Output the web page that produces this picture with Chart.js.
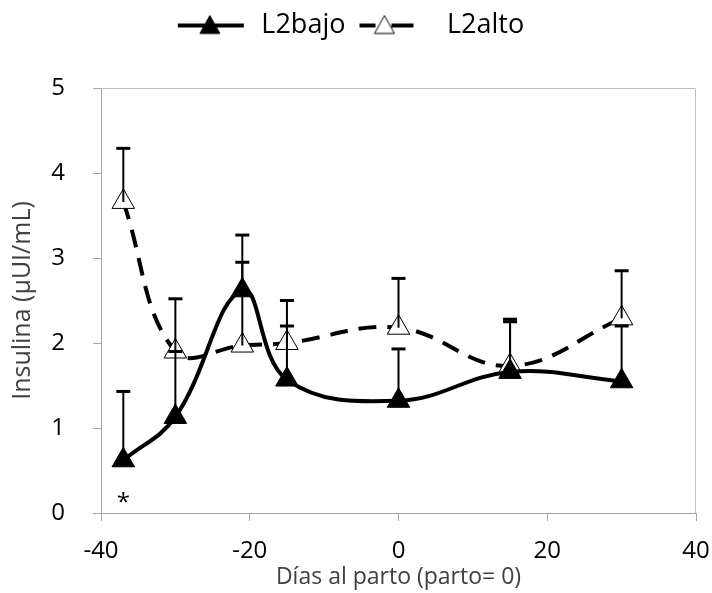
<!DOCTYPE html>
<html>
<head>
<meta charset="utf-8">
<script src="https://cdn.jsdelivr.net/npm/chart.js@4.4.1/dist/chart.umd.min.js"></script>
<style>
  html, body { margin: 0; padding: 0; background: #fff; }
  #wrap { width: 712px; height: 593px; }
</style>
</head>
<body>
<div id="wrap"><canvas id="insulinChart" width="712" height="593"></canvas></div>
<script>
// days relative to calving
const days = [-37, -30, -21, -15, 0, 15, 30];
const bajoValues = [0.62, 1.13, 2.62, 1.57, 1.32, 1.66, 1.55];
const bajoErrors = [0.81, 0.77, 0.65, 0.63, 0.61, 0.62, 0.65];
const altoValues = [3.66, 1.90, 1.97, 2.00, 2.18, 1.73, 2.29];
const altoErrors = [0.63, 0.62, 0.98, 0.50, 0.58, 0.52, 0.56];
const xTicks = [-40, -20, 0, 20, 40];
const yTicks = [0, 1, 2, 3, 4, 5];

const axisGray = '#a6a6a6';
const textColor = '#404040';
const font = '"Open Sans", "DejaVu Sans", sans-serif';

// legend icons: line + triangle
function makeIcon(segments, cx, filled) {
  const c = document.createElement('canvas');
  c.width = 76; c.height = 26;
  const g = c.getContext('2d');
  g.strokeStyle = '#000';
  g.lineWidth = 4;
  segments.forEach(s => {
    g.beginPath(); g.moveTo(s[0], 13); g.lineTo(s[1], 13); g.stroke();
  });
  g.beginPath();
  g.moveTo(cx, 3); g.lineTo(cx + 10, 21); g.lineTo(cx - 10, 21); g.closePath();
  g.fillStyle = filled ? '#000' : '#fff';
  g.fill();
  g.lineWidth = 1;
  g.stroke();
  return c;
}
const legendIcons = [
  makeIcon([[6, 72]], 38, true),
  makeIcon([[2, 18], [34, 56]], 27, false)
];

const errorSets = [bajoErrors, altoErrors];

const extras = {
  id: 'extras',
  afterDatasetsDraw(chart) {
    const {ctx, scales: {x, y}} = chart;
    ctx.save();
    ctx.strokeStyle = '#000';
    chart.data.datasets.forEach((ds, i) => {
      ds.data.forEach((pt, j) => {
        const px = x.getPixelForValue(pt.x);
        const py = y.getPixelForValue(pt.y);
        const top = y.getPixelForValue(pt.y + errorSets[i][j]);
        ctx.lineWidth = 2;
        ctx.beginPath(); ctx.moveTo(px, py); ctx.lineTo(px, top); ctx.stroke();
        ctx.lineWidth = 3;
        ctx.beginPath(); ctx.moveTo(px - 7, top); ctx.lineTo(px + 7, top); ctx.stroke();
      });
    });
    // significance mark
    ctx.fillStyle = '#000';
    ctx.font = '24px ' + font;
    ctx.textAlign = 'center';
    ctx.textBaseline = 'middle';
    ctx.fillText('*', x.getPixelForValue(-37), y.getPixelForValue(0.12));
    ctx.restore();
  },
  afterDraw(chart) {
    const {ctx, chartArea: a} = chart;
    ctx.save();
    ctx.strokeStyle = '#bfbfbf';
    ctx.lineWidth = 1;
    ctx.beginPath();
    ctx.moveTo(a.left, a.top + 0.5);
    ctx.lineTo(a.right - 0.5, a.top + 0.5);
    ctx.lineTo(a.right - 0.5, a.bottom);
    ctx.stroke();
    ctx.restore();
  }
};

const ctx = document.getElementById('insulinChart').getContext('2d');
const chart = new Chart(ctx, {
  type: 'line',
  data: {
    datasets: [{
      label: 'L2bajo',
      data: days.map((d, i) => ({x: d, y: bajoValues[i]})),
      borderColor: '#000',
      borderWidth: 4,
      tension: 0.4,
      pointStyle: 'triangle',
      pointRadius: 13,
      pointBackgroundColor: '#000',
      pointBorderColor: '#000',
      pointBorderWidth: 1
    }, {
      label: 'L2alto',
      data: days.map((d, i) => ({x: d, y: altoValues[i]})),
      borderColor: '#000',
      borderWidth: 4,
      borderDash: [18, 11],
      tension: 0.4,
      pointStyle: 'triangle',
      pointRadius: 13,
      pointBackgroundColor: '#fff',
      pointBorderColor: '#000',
      pointBorderWidth: 1
    }]
  },
  options: {
    responsive: false,
    animation: false,
    layout: { padding: { top: 0, right: 16, bottom: 0, left: 0 } },
    plugins: {
      legend: {
        position: 'top',
        weight: 3000,
        labels: {
          usePointStyle: true,
          pointStyleWidth: 76,
          padding: 12,
          color: '#000',
          font: { family: font, size: 27 },
          generateLabels(c) {
            return Chart.defaults.plugins.legend.labels.generateLabels(c)
              .map((item, i) => ({...item, pointStyle: legendIcons[i]}));
          }
        }
      },
      // spacer between legend and plot
      title: { display: true, text: '', font: { size: 10 }, padding: { top: 27, bottom: 0 } },
      tooltip: { enabled: false }
    },
    scales: {
      x: {
        type: 'linear',
        min: -40,
        max: 40,
        afterBuildTicks(s) { s.ticks = xTicks.map(v => ({value: v})); },
        afterFit(s) { s.height = 80; s.paddingLeft = 0; s.paddingRight = 0; },
        grid: { drawOnChartArea: false, color: axisGray, tickLength: 8 },
        border: { color: axisGray },
        ticks: { color: '#000', font: { family: font, size: 24 }, padding: 16, maxRotation: 0 },
        title: { display: true, text: 'Días al parto (parto= 0)', color: textColor,
                 font: { family: font, size: 23 }, padding: { top: 0, bottom: 2 } }
      },
      y: {
        min: 0,
        max: 5,
        afterBuildTicks(s) { s.ticks = yTicks.map(v => ({value: v})); },
        afterFit(s) { s.width = 101; },
        grid: { drawOnChartArea: false, color: axisGray, tickLength: 8 },
        border: { color: axisGray },
        ticks: { color: '#000', font: { family: font, size: 24 }, padding: 28 },
        title: { display: true, text: 'Insulina (µUI/mL)', color: textColor,
                 font: { family: font, size: 25 }, padding: { top: 8, bottom: 0 } }
      }
    }
  },
  plugins: [extras]
});
</script>
</body>
</html>
